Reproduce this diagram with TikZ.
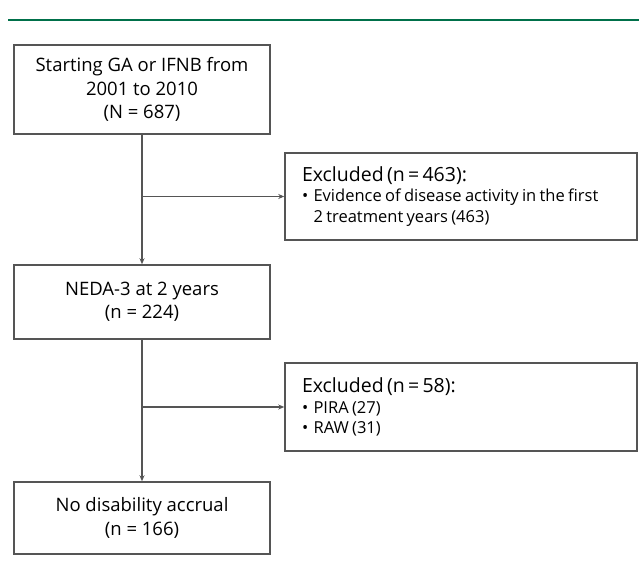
\documentclass[tikz,border=0pt]{standalone}
\usepackage{fontspec}
\setmainfont{Open Sans}
\usetikzlibrary{arrows.meta}
\definecolor{rulegreen}{HTML}{00704A}
\definecolor{boxgray}{HTML}{555555}
\newcommand{\exclhead}[1]{{\fontsize{19.5}{21}\selectfont #1\par}}
\newcommand{\exclitem}[1]{{\fontsize{16.5}{20.5}\selectfont\hangindent=0.7em\hangafter=1\noindent\makebox[0.7em][l]{•}#1\par}}

\begin{document}
\begin{tikzpicture}[x=1pt, y=1pt,
    flowbox/.style={draw=boxgray, line width=1.5pt, minimum width=256pt, align=center, font=\fontsize{18.5}{23.5}\selectfont},
    exclbox/.style={draw=boxgray, line width=1.5pt, text width=318pt, inner xsep=17pt, align=left},
    flowline/.style={draw=boxgray, line width=1.4pt},
    flowarrow/.style={flowline, -{Stealth[length=6pt, width=5pt]}}]
        \useasboundingbox (0,0) rectangle (639,-569);

        % Top rule
        \draw[rulegreen, line width=2.5pt] (8,-20) -- (639,-20);

        % Main boxes
        \node[flowbox, minimum height=89pt] (start) at (142,-89.5) {Starting GA or IFNB from\\2001 to 2010\\(N = 687)};
        \node[flowbox, minimum height=74pt] (neda) at (142,-302) {NEDA-3 at 2 years\\(n = 224)};
        \node[flowbox, minimum height=72pt] (noacc) at (142,-518) {No disability accrual\\(n = 166)};

        % Exclusion boxes
        \node[exclbox, minimum height=87pt] (excl1) at (461,-196.5) {\exclhead{Excluded (n = 463):}\exclitem{Evidence of disease activity in the first\hfil\break 2 treatment years (463)}};
        \node[exclbox, minimum height=88pt] (excl2) at (461,-407) {\exclhead{Excluded (n = 58):}\exclitem{PIRA (27)}\exclitem{RAW (31)}};

        % Flow arrows
        \draw[flowarrow] (start) -- (neda);
        \draw[flowarrow] (neda) -- (noacc);
        \coordinate (branch1) at (start.south |- excl1.west);
        \coordinate (branch2) at (neda.south |- excl2.west);
        \draw[flowarrow] (branch1) -- (excl1.west);
        \draw[flowarrow] (branch2) -- (excl2.west);
      \end{tikzpicture}
\end{document}
